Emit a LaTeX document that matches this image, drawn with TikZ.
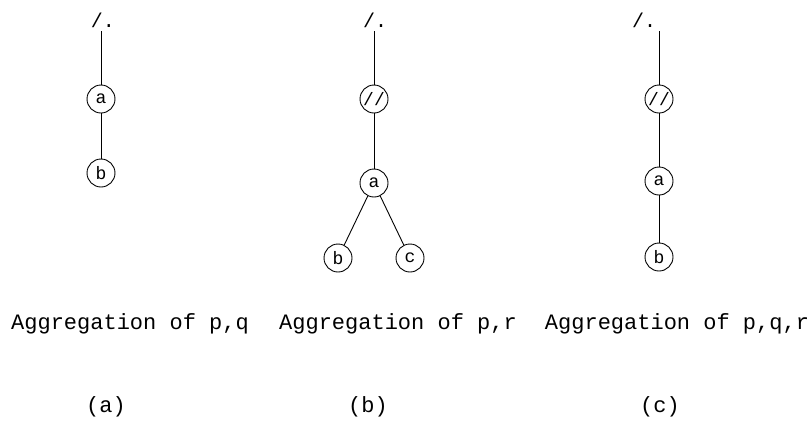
\documentclass[tikz,border=0pt]{standalone}
\usepackage{fontspec}
\setmonofont{Liberation Mono}
\usetikzlibrary{positioning}

\begin{document}
\begin{tikzpicture}[x=1pt, y=-1pt, line width=0.9pt,
				knoten/.style={draw, circle, minimum size=28pt, inner sep=0pt, font=\ttfamily\fontsize{18}{18}\selectfont},
				wurzel/.style={font=\ttfamily\fontsize{20}{20}\selectfont},
				beschr/.style={font=\ttfamily\fontsize{22}{22}\selectfont}]
				\useasboundingbox (0,0) rectangle (809,432);
				% Baum (a)
				\node[wurzel] (wa) at (103,20) {/.};
				\node[knoten] (aa) at (101,99) {a};
				\node[knoten] (ba) at (101,173) {b};
				\draw (wa.south -| aa) -- (aa);
				\draw (aa) -- (ba);
				% Baum (b)
				\node[wurzel] (wb) at (375,20) {/.};
				\node[knoten] (sb) at (374,99) {//};
				\node[knoten] (ab) at (374,183) {a};
				\node[knoten] (bb) at (338,258) {b};
				\node[knoten] (cb) at (410,258) {c};
				\draw (wb.south -| sb) -- (sb);
				\draw (sb) -- (ab);
				\draw (ab) -- (bb);
				\draw (ab) -- (cb);
				% Baum (c)
				\node[wurzel] (wc) at (644,20) {/.};
				\node[knoten] (sc) at (659,99) {//};
				\node[knoten] (ac) at (659,181) {a};
				\node[knoten] (bc) at (659,257) {b};
				\draw (wc.south -| sc) -- (sc);
				\draw (sc) -- (ac);
				\draw (ac) -- (bc);
				% Beschriftung
				\node[beschr] (ta) at (130,324) {Aggregation of p,q};
				\node[beschr] (tb) at (398,324) {Aggregation of p,r};
				\node[beschr] (tc) at (677,324) {Aggregation of p,q,r};
				\node[beschr] (la) at (106,407) {(a)};
				\node[beschr] (lb) at (368,407) {(b)};
				\node[beschr] (lc) at (660,407) {(c)};
			\end{tikzpicture}
\end{document}
